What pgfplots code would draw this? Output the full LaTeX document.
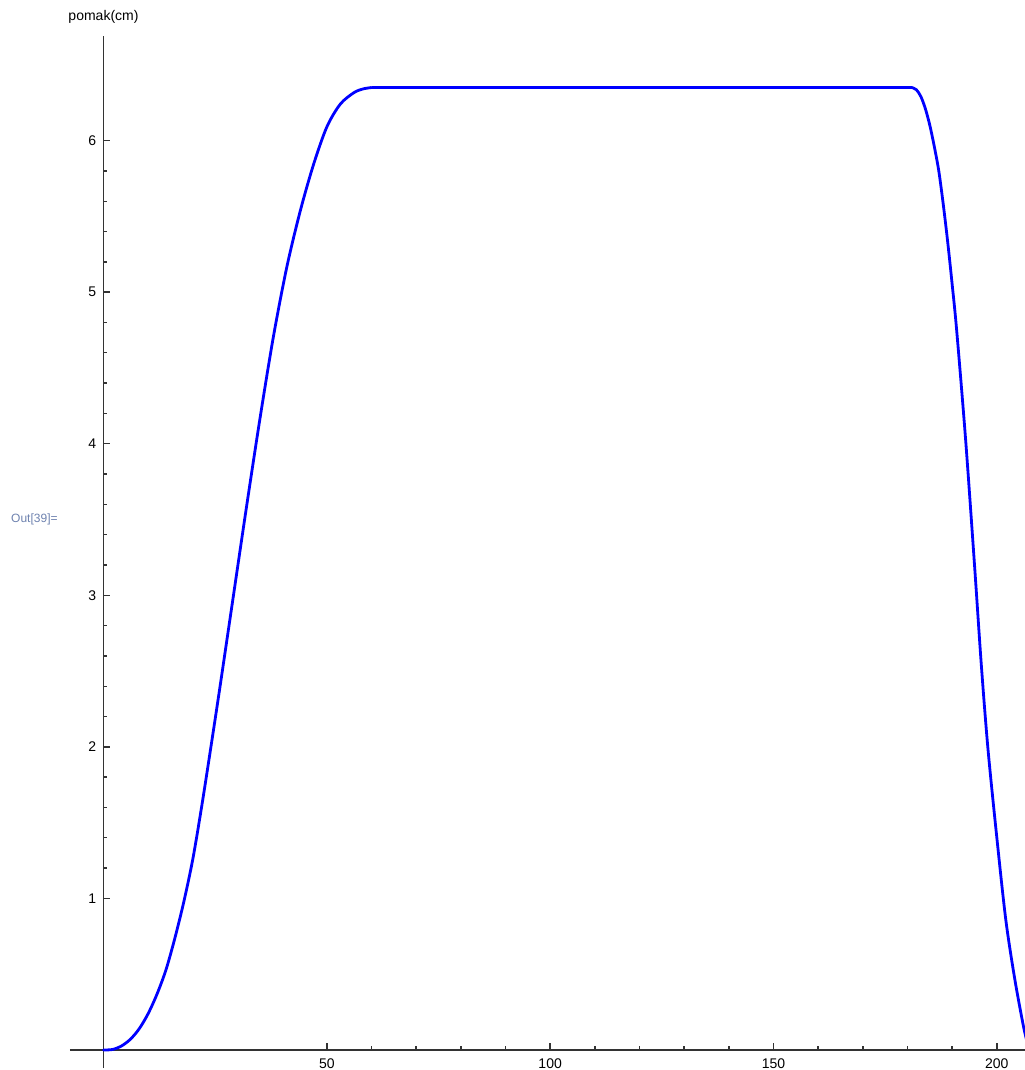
\documentclass[border=0pt]{standalone}
\usepackage{fontspec}
\setmainfont{Liberation Sans}
\usepackage{pgfplots}
\pgfplotsset{compat=1.18}

\definecolor{outblue}{RGB}{110,130,175}

\begin{document}
\begin{tikzpicture}
\begin{axis}[
    scale only axis, width=477.5pt, height=516pt,
    axis lines=middle,
    xmin=-7.5, xmax=206.3, ymin=-0.119, ymax=6.69,
    xtick={50,100,150,200}, ytick={1,2,3,4,5,6},
    minor x tick num=4, minor y tick num=4,
    tick align=inside,
    major tick length=3.5pt, minor tick length=2pt,
    axis line style={draw=black!80, line width=0.9pt, -},
    every tick/.style={black!80, line width=0.7pt},
    tick label style={font=\fontsize{7}{8}\selectfont, inner sep=0pt},
    xticklabel style={anchor=north, yshift=-4pt},
    yticklabel style={anchor=east, xshift=-3.5pt},
    /pgf/number format/assume math mode=true,
    clip mode=individual,
]
% rise
\addplot[blue, line width=1.4pt, smooth, line cap=round] coordinates {
    (0,0) (2,0.003) (4,0.026) (6,0.07) (8,0.14) (10,0.24) (12,0.37)
    (14,0.53) (16,0.74) (18,0.98) (20,1.26) (22,1.61) (24,1.99) (26,2.38)
    (29,2.98) (32,3.58) (35,4.16) (38,4.70) (41,5.16) (44,5.53) (47,5.84)
    (50,6.09) (53,6.24) (56,6.315) (58,6.34) (60,6.35)
};
% dwell
\addplot[blue, line width=1.4pt] coordinates {(60,6.35) (181,6.35)};
% return
\addplot[blue, line width=1.4pt, smooth, line cap=round] coordinates {
    (181,6.35) (182,6.335) (183,6.29) (184,6.21) (185,6.10) (186,5.96)
    (187,5.80) (188,5.58) (189,5.33) (190,5.05) (191,4.75) (193,4.03)
    (195,3.20) (196.5,2.55) (198,1.99) (200,1.40) (202,0.86) (204,0.47)
    (206,0.15) (207,0.03)
};
\coordinate (bl) at (rel axis cs:0,0);
\coordinate (tr) at (rel axis cs:1,1);
\node[anchor=south, inner sep=0pt, yshift=6pt, font=\fontsize{7}{8}\selectfont]
    at (axis cs:0,6.69) {pomak(cm)};
\node[anchor=east, inner sep=0pt, xshift=-6pt, text=outblue, font=\fontsize{6}{7}\selectfont]
    at (axis cs:-7.5,3.5) {Out[39]=};
\end{axis}
\pgfresetboundingbox
\path ([xshift=-35pt,yshift=-1pt]bl) rectangle ([yshift=18pt]tr);
\end{tikzpicture}
\end{document}
